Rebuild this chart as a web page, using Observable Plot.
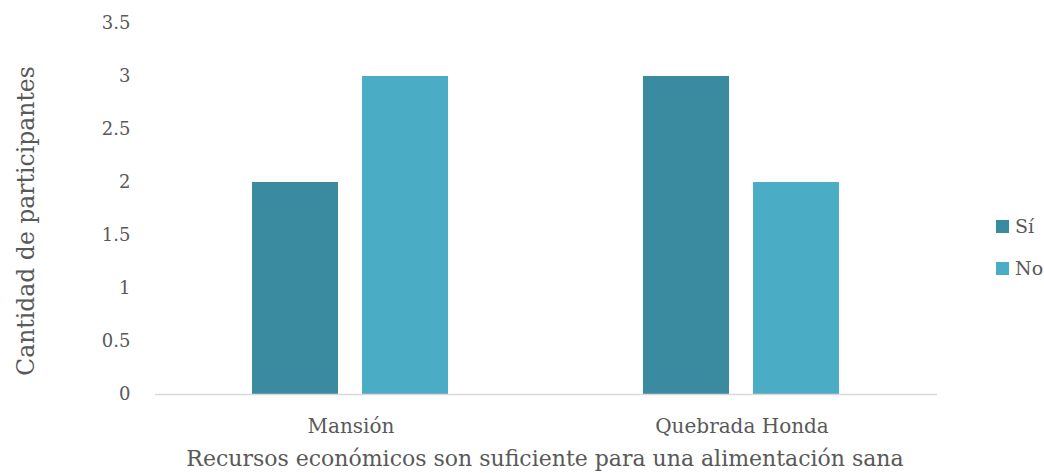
<!DOCTYPE html>
<html>
<head>
<meta charset="utf-8">
<script src="https://cdn.jsdelivr.net/npm/d3@7"></script>
<script src="https://cdn.jsdelivr.net/npm/@observablehq/plot@0.6"></script>
<style>
  html, body { margin: 0; padding: 0; background: #fff; }
  #wrap { position: relative; width: 1044px; height: 473px; font-family: 'DejaVu Serif', serif; color: #595959; }
  #wrap svg { position: absolute; left: 0; top: 0; }
  .ytitle { position: absolute; left: 27px; top: 221px; transform: translate(-50%, -50%) rotate(-90deg); white-space: nowrap; font-size: 23.5px; line-height: 1; }
  .xtitle { position: absolute; left: 545px; top: 448px; transform: translate(-50%, 0); white-space: nowrap; font-size: 22px; line-height: 1; }
  .lrow { position: absolute; left: 996px; display: flex; align-items: center; font-size: 19px; line-height: 1; height: 19px; }
  .lrow span.sw { display: inline-block; width: 13px; height: 13px; margin-right: 6px; }
</style>
</head>
<body>
<div id="wrap"></div>
<script>
const categories = ["Mansión", "Quebrada Honda"];
const series = ["Sí", "No"];
const valuesSi = [2, 3];
const valuesNo = [3, 2];
const yTicks = [0, 0.5, 1, 1.5, 2, 2.5, 3, 3.5];
const colors = ["#3A8AA0", "#4BACC6"];
const yTitle = "Cantidad de participantes";
const xTitle = "Recursos económicos son suficiente para una alimentación sana";

const data = categories.flatMap((c, i) => [
  {cat: c, s: series[0], v: valuesSi[i]},
  {cat: c, s: series[1], v: valuesNo[i]}
]);

const chart = Plot.plot({
  width: 1044,
  height: 473,
  marginLeft: 155,
  marginRight: 107,
  marginTop: 23,
  marginBottom: 79,
  style: {fontFamily: "'DejaVu Serif', serif", fontSize: "18px", color: "#595959", background: "transparent"},
  fx: {domain: categories, padding: 0, label: null, axis: null},
  x: {domain: series, paddingInner: 0.216, paddingOuter: 0.87, axis: null},
  y: {domain: [0, 3.5], label: null, axis: null},
  color: {domain: series, range: colors},
  marks: [
    Plot.barY(data, {fx: "cat", x: "s", y: "v", fill: "s"}),
    Plot.ruleY([0], {stroke: "#d9d9d9", strokeWidth: 1.5}),
    Plot.axisY(yTicks, {anchor: "left", tickSize: 0, tickPadding: 25, fontSize: 18, label: null, fill: "#595959", tickFormat: d => String(d)}),
    Plot.axisFx({anchor: "bottom", tickSize: 0, tickPadding: 24, fontSize: 20, label: null, fill: "#595959"})
  ]
});

const wrap = document.getElementById("wrap");
wrap.appendChild(chart);

const yt = document.createElement("div");
yt.className = "ytitle"; yt.textContent = yTitle; wrap.appendChild(yt);
const xt = document.createElement("div");
xt.className = "xtitle"; xt.textContent = xTitle; wrap.appendChild(xt);

const legendTops = [217, 259];
series.forEach((s, i) => {
  const row = document.createElement("div");
  row.className = "lrow";
  row.style.top = legendTops[i] + "px";
  const sw = document.createElement("span");
  sw.className = "sw"; sw.style.background = colors[i];
  row.appendChild(sw);
  row.appendChild(document.createTextNode(s));
  wrap.appendChild(row);
});
</script>
</body>
</html>
